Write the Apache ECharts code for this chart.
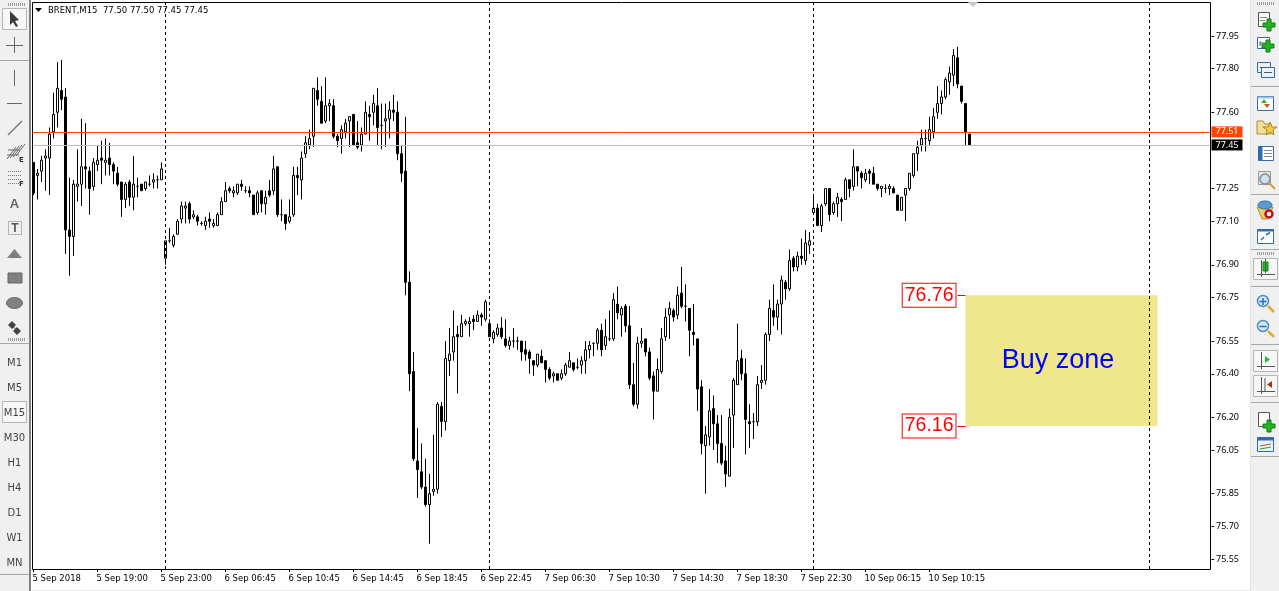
<!DOCTYPE html>
<html><head><meta charset="utf-8">
<style>html,body{margin:0;padding:0;background:#fff;overflow:hidden}#c{width:1279px;height:591px}</style>
<script src="https://cdn.jsdelivr.net/npm/echarts@6/dist/echarts.min.js"></script>
</head><body><div id="c"></div>
<script>
const opens=[
77.37,77.31,77.33,77.39,77.39,77.51,77.60,77.70,77.67,77.06,
77.03,77.26,77.27,77.35,77.33,77.26,77.36,77.39,77.37,77.39,
77.36,77.32,77.28,77.20,77.28,77.21,77.26,77.27,77.25,77.27,
77.28,77.29,77.29,76.93,77.01,76.99,77.04,77.11,77.16,77.18,
77.12,77.12,77.09,77.08,77.11,77.08,77.08,77.13,77.19,77.25,
77.23,77.23,77.27,77.24,77.24,77.22,77.14,77.24,77.18,77.24,
77.24,77.35,77.13,77.13,77.10,77.13,77.31,77.29,77.41,77.45,
77.49,77.70,77.65,77.56,77.63,77.63,77.49,77.48,77.51,77.56,
77.59,77.46,77.45,77.50,77.59,77.60,77.63,77.54,77.56,77.57,
77.61,77.60,77.41,77.33,76.82,76.41,76.00,75.95,75.88,75.80,
75.86,75.87,76.25,76.18,76.46,76.50,76.58,76.57,76.63,76.63,
76.65,76.64,76.67,76.65,76.63,76.56,76.58,76.61,76.56,76.53,
76.55,76.55,76.55,76.51,76.50,76.46,76.44,76.48,76.46,76.42,
76.39,76.40,76.38,76.40,76.43,76.45,76.43,76.44,76.46,76.51,
76.54,76.54,76.60,76.53,76.56,76.56,76.72,76.67,76.71,76.62,
76.35,76.26,76.54,76.56,76.50,76.39,76.32,76.41,76.57,76.67,
76.69,76.67,76.77,76.71,76.70,76.59,76.56,76.34,76.07,76.11,
76.24,76.17,76.08,76.00,75.93,76.21,76.35,76.47,76.40,76.18,
76.18,76.18,76.36,76.37,76.58,76.69,76.66,76.72,76.82,76.79,
76.93,76.89,76.94,76.92,76.99,77.14,77.16,77.08,77.18,77.25,
77.14,77.18,77.20,77.20,77.29,77.26,77.35,77.32,77.29,77.33,
77.32,77.27,77.25,77.25,77.25,77.25,77.22,77.15,77.22,77.25,
77.31,77.41,77.45,77.48,77.47,77.51,77.60,77.64,77.67,77.74,
77.77,77.85,77.72,77.64,77.50];
const closes=[
77.23,77.32,77.38,77.40,77.50,77.59,77.71,77.66,77.06,77.03,
77.27,77.27,77.35,77.34,77.25,77.37,77.38,77.38,77.38,77.36,
77.33,77.27,77.20,77.27,77.21,77.27,77.26,77.24,77.28,77.27,
77.29,77.29,77.34,77.01,77.01,77.03,77.10,77.17,77.17,77.11,
77.13,77.10,77.09,77.10,77.10,77.09,77.13,77.19,77.24,77.24,
77.24,77.27,77.26,77.24,77.23,77.13,77.23,77.18,77.21,77.22,
77.34,77.13,77.13,77.09,77.12,77.31,77.30,77.39,77.46,77.48,
77.71,77.66,77.55,77.63,77.64,77.49,77.47,77.52,77.55,77.58,
77.45,77.44,77.50,77.60,77.58,77.64,77.53,77.54,77.57,77.61,
77.60,77.41,77.32,76.82,76.40,76.01,75.96,75.88,75.80,75.85,
75.87,76.26,76.18,76.47,76.49,76.57,76.57,76.63,76.64,76.64,
76.64,76.67,76.66,76.73,76.57,76.59,76.61,76.57,76.53,76.55,
76.55,76.55,76.50,76.49,76.47,76.44,76.49,76.45,76.42,76.38,
76.40,76.37,76.40,76.44,76.46,76.42,76.43,76.46,76.51,76.53,
76.54,76.60,76.51,76.57,76.56,76.74,76.68,76.70,76.62,76.35,
76.26,76.54,76.55,76.50,76.38,76.32,76.42,76.56,76.66,76.70,
76.66,76.76,76.71,76.71,76.60,76.58,76.33,76.08,76.12,76.23,
76.17,76.08,75.99,75.94,76.20,76.37,76.46,76.40,76.19,76.17,
76.18,76.35,76.37,76.58,76.70,76.66,76.72,76.83,76.79,76.92,
76.89,76.94,76.93,77.00,77.01,77.16,77.08,77.17,77.25,77.13,
77.18,77.21,77.19,77.29,77.25,77.35,77.33,77.30,77.32,77.32,
77.27,77.25,77.26,77.25,77.26,77.23,77.15,77.21,77.25,77.32,
77.41,77.44,77.48,77.48,77.52,77.58,77.64,77.67,77.75,77.78,
77.86,77.73,77.65,77.51,77.45];
const lows=[
77.22,77.20,77.28,77.24,77.22,77.48,77.53,77.61,76.95,76.85,
76.94,77.19,77.17,77.25,77.13,77.24,77.33,77.27,77.31,77.31,
77.27,77.26,77.12,77.16,77.17,77.15,77.21,77.24,77.24,77.26,
77.25,77.25,77.29,76.90,77.00,76.98,77.04,77.09,77.09,77.09,
77.11,77.08,77.08,77.06,77.07,77.07,77.08,77.13,77.19,77.23,
77.21,77.22,77.24,77.23,77.21,77.13,77.13,77.14,77.13,77.21,
77.22,77.12,77.10,77.06,77.09,77.12,77.22,77.20,77.39,77.43,
77.44,77.63,77.55,77.55,77.56,77.48,77.44,77.41,77.48,77.44,
77.45,77.43,77.42,77.50,77.47,77.54,77.45,77.43,77.44,77.48,
77.56,77.38,77.28,76.76,76.32,76.00,75.83,75.87,75.79,75.62,
75.84,75.85,76.11,76.14,76.39,76.46,76.31,76.57,76.62,76.57,
76.60,76.64,76.62,76.64,76.57,76.54,76.57,76.56,76.52,76.51,
76.52,76.51,76.46,76.46,76.40,76.39,76.43,76.45,76.36,76.37,
76.36,76.37,76.37,76.39,76.43,76.41,76.42,76.40,76.40,76.47,
76.48,76.51,76.48,76.51,76.55,76.55,76.65,76.57,76.59,76.33,
76.25,76.24,76.52,76.48,76.37,76.19,76.32,76.40,76.55,76.56,
76.64,76.65,76.70,76.64,76.48,76.53,76.23,76.03,75.85,76.07,
76.05,75.99,75.98,75.88,75.93,76.06,76.35,76.37,76.03,76.06,
76.10,76.16,76.33,76.35,76.55,76.62,76.60,76.58,76.74,76.78,
76.87,76.87,76.90,76.90,76.95,77.13,77.08,77.05,77.17,77.10,
77.13,77.12,77.10,77.20,77.21,77.24,77.26,77.25,77.28,77.27,
77.27,77.24,77.21,77.23,77.22,77.23,77.15,77.15,77.10,77.24,
77.30,77.33,77.42,77.42,77.45,77.48,77.57,77.59,77.66,77.68,
77.72,77.71,77.64,77.45,77.45];
const highs=[
77.37,77.34,77.40,77.43,77.53,77.69,77.83,77.84,77.71,77.30,
77.29,77.43,77.57,77.55,77.35,77.39,77.45,77.47,77.48,77.46,
77.37,77.35,77.28,77.28,77.29,77.40,77.30,77.27,77.28,77.31,
77.32,77.31,77.37,77.01,77.07,77.04,77.11,77.19,77.19,77.19,
77.15,77.13,77.10,77.12,77.14,77.11,77.14,77.21,77.28,77.26,
77.26,77.27,77.29,77.26,77.26,77.22,77.24,77.24,77.24,77.29,
77.40,77.35,77.20,77.13,77.20,77.35,77.35,77.42,77.49,77.52,
77.71,77.76,77.72,77.76,77.66,77.66,77.50,77.54,77.57,77.58,
77.59,77.56,77.53,77.65,77.63,77.68,77.71,77.64,77.64,77.65,
77.68,77.65,77.45,77.58,76.87,76.50,76.15,76.08,76.01,75.94,
76.12,76.27,76.27,76.55,76.61,76.69,76.62,76.67,76.65,76.66,
76.67,76.69,76.68,76.74,76.65,76.60,76.63,76.66,76.65,76.57,
76.61,76.57,76.55,76.55,76.51,76.46,76.49,76.51,76.46,76.43,
76.41,76.40,76.42,76.45,76.50,76.45,76.47,76.48,76.55,76.55,
76.54,76.61,76.63,76.65,76.69,76.77,76.80,76.71,76.72,76.71,
76.45,76.57,76.61,76.56,76.52,76.41,76.47,76.61,76.70,76.73,
76.70,76.80,76.89,76.81,76.70,76.72,76.56,76.37,76.16,76.33,
76.30,76.21,76.21,76.07,76.24,76.38,76.63,76.51,76.47,76.26,
76.22,76.39,76.44,76.59,76.74,76.81,76.74,76.85,76.83,76.97,
76.94,76.96,77.02,77.06,77.05,77.22,77.18,77.18,77.25,77.25,
77.19,77.23,77.21,77.30,77.29,77.43,77.35,77.33,77.34,77.34,
77.35,77.27,77.26,77.27,77.27,77.26,77.22,77.21,77.25,77.32,
77.41,77.47,77.52,77.52,77.58,77.62,77.72,77.70,77.76,77.81,
77.89,77.90,77.72,77.64,77.50];
const timeLabels=['5 Sep 2018','5 Sep 19:00','5 Sep 23:00','6 Sep 06:45','6 Sep 10:45','6 Sep 14:45','6 Sep 18:45','6 Sep 22:45','7 Sep 06:30','7 Sep 10:30','7 Sep 14:30','7 Sep 18:30','7 Sep 22:30','10 Sep 06:15','10 Sep 10:15'];
const priceTicks=[77.95,77.80,77.60,77.25,77.10,76.90,76.75,76.55,76.40,76.20,76.05,75.85,75.70,75.55];
const periodSeparators=[33,114,195,279];
const bidPrice=77.45, highlightPrice=77.51;
const zoneTop=76.76, zoneBottom=76.16;
const periods=['M1','M5','M15','M30','H1','H4','D1','W1','MN'];
const headerText='BRENT,M15  77.50 77.50 77.45 77.45';

const SLOTS=295, EVERY=16;
const categories=Array.from({length:SLOTS},(_,i)=>(i%EVERY===0&&timeLabels[i/EVERY])||String(i));
const candles=opens.map((o,i)=>[o,closes[i],lows[i],highs[i]]);
const isTick=i=>i%EVERY===0&&i/EVERY<timeLabels.length;
const UI='"DejaVu Sans"';
const UIF='DejaVu Sans';

/* ---------- window chrome ---------- */
const g=[];
const R=(x,y,w,h,fill,stroke,extra)=>g.push(Object.assign({type:'rect',silent:true,z:100,shape:{x,y,width:w,height:h},style:{fill:fill||'none',stroke:stroke||'none',lineWidth:1}},extra||{}));
const L=(x1,y1,x2,y2,c,w,dash)=>g.push({type:'line',silent:true,z:101,shape:{x1,y1,x2,y2},style:{stroke:c||'#555',lineWidth:w||1,lineDash:dash}});
const P=(pts,fill,stroke)=>g.push({type:'polygon',silent:true,z:101,shape:{points:pts},style:{fill:fill||'none',stroke:stroke||'none',lineWidth:1}});
const T=(x,y,s,o)=>g.push({type:'text',silent:true,z:102,x,y,style:Object.assign({text:s,font:'10px '+UI,fill:'#000',verticalAlign:'middle'},o||{})});

R(0,0,30,591,'#F0F0F0');
R(29,0,2,591,'#808080');
R(31,0,1,591,'#fff');
R(1251,0,28,591,'#F0F0F0');
R(1250,0,1,591,'#E4E4E4');
R(32,590,1218,1,'#E8E8E8');
/* frame */
R(32.5,2.5,1178,567,null,'#000');

/* left toolbar */
for(let i=0;i<9;i++) L(8+i*2+.5,3,8+i*2+.5,6,'#9a9a9a',1);
for(let i=0;i<9;i++) L(8+i*2+.5,338,8+i*2+.5,341,'#9a9a9a',1);
[60.5,343.5,574.5].forEach(y=>L(0,y,29,y,'#a8a8a8',1));
R(2.5,8.5,24,21,'#F7F7F7','#b5b5b5');
P([[10,11],[10,25],[13,22],[16,27],[18,26],[15,21],[19,20]],'#3a3a3a');
L(14.5,37,14.5,53,'#666'); L(6,45.5,23,45.5,'#666');
R(12,43,5,5,'#F0F0F0');
L(14.5,70,14.5,86,'#666');
L(7,103.5,22,103.5,'#666');
L(8,135,22,121,'#777',1.4);
for(let i=0;i<4;i++) L(7+i*3,159-i,16+i*3,147-i,'#666');
L(8,150,20,150,'#666');L(7,155,19,155,'#666');
T(19,160,'E',{font:'bold 7px '+UI,fill:'#333'});
[171,175,179,183].forEach(y=>L(8,y+.5,22,y+.5,'#777',1,[1,1]));
T(19,184,'F',{font:'bold 7px '+UI,fill:'#333'});
T(14.5,204,'A',{font:'bold 13px "Liberation Sans"',fill:'#666',align:'center'});
R(8.5,221.5,13,13,null,'#777',{style:{fill:'none',stroke:'#777',lineWidth:1,lineDash:[1,1]}});
T(15,229,'T',{font:'bold 12px "Liberation Sans"',fill:'#555',align:'center'});
P([[7,258],[22,258],[14.5,249]],'#808080');
R(8,273,14,10,'#808080','#666');
g.push({type:'ellipse',silent:true,z:101,shape:{cx:14.5,cy:303,rx:8,ry:5.5},style:{fill:'#808080',stroke:'#707070'}});
P([[8,325],[12,321],[16,325],[12,329]],'#444');P([[13,331],[17,327],[21,331],[17,335]],'#444');L(10,323,18,332,'#444');
R(2.5,401.5,24,21,'#F7F7F7','#b5b5b5');
periods.forEach((p,i)=>T(14.5,363+25*i,p,{align:'center',fill:'#444',font:'10px '+UI}));

/* right toolbar */
for(let i=0;i<9;i++) L(1257+i*2+.5,2,1257+i*2+.5,5,'#9a9a9a',1);
for(let i=0;i<9;i++) L(1257+i*2+.5,252,1257+i*2+.5,255,'#9a9a9a',1);
[86.5,194.5,249.5,286.5,344.5,402.5,456.5].forEach(y=>L(1251,y,1279,y,'#a8a8a8',1));
const plus=(x,y)=>{P([[x-2,y-6],[x+2,y-6],[x+2,y-2],[x+6,y-2],[x+6,y+2],[x+2,y+2],[x+2,y+6],[x-2,y+6],[x-2,y+2],[x-6,y+2],[x-6,y-2],[x-2,y-2]],'#22B522','#0F7A0F');};
const doc=(x,y,c)=>R(x+.5,y+.5,11,14,c||'#fff','#555');
doc(1258,12);L(1260,17.5,1267,17.5,'#888');L(1260,20.5,1265,20.5,'#888');plus(1269,25);
R(1257.5,37.5,12,11,'#fff','#2F6DB0');L(1260,43,1266,43,'#555');L(1260,41,1260,46,'#555');plus(1268,46);
R(1257.5,62.5,13,10,'#E9F1FA','#2F6DB0');R(1261.5,67.5,13,10,'#E9F1FA','#2F6DB0');L(1260,67.5,1268,67.5,'#555');L(1264,72.5,1272,72.5,'#555');
R(1257.5,96.5,16,14,'#fff','#2F6DB0');R(1257.5,96.5,16,2,'#9DC3E6');P([[1261,103],[1264,99],[1267,103]],'#2EB82E');P([[1264,104],[1267,108],[1270,104]],'#E05020');
P([[1257,121],[1263,121],[1265,124],[1271,124],[1271,134],[1257,134]],'#F3DE95','#A89040');P([[1270,122],[1272,127],[1277,127],[1273,130],[1274,135],[1270,132],[1266,135],[1267,130],[1263,127],[1268,127]],'#F4C94A','#A88A20');
R(1258.5,146.5,15,14,'#fff','#2F6DB0');R(1258.5,146.5,4,14,'#2F6DB0');[150,153,156].forEach(y=>L(1264,y+.5,1272,y+.5,'#888'));
R(1258.5,171.5,12,13,'#E8E8E8','#999');g.push({type:'circle',silent:true,z:101,shape:{cx:1265,cy:179,r:5},style:{fill:'#CFE0F0',stroke:'#888',lineWidth:1.5}});L(1269,183,1275,189,'#C9A030',2);
P([[1257,207],[1273,207],[1268,219],[1262,219]],'#EBCB6B','#A89040');g.push({type:'ellipse',silent:true,z:101,shape:{cx:1265,cy:205,rx:7,ry:4},style:{fill:'#5B9BD5',stroke:'#2F6DB0'}});g.push({type:'circle',silent:true,z:102,shape:{cx:1269,cy:214,r:3.5},style:{fill:'#fff',stroke:'#C81010',lineWidth:2.5}});
R(1257.5,229.5,16,14,'#fff','#2F6DB0');R(1257.5,229.5,16,2,'#2F6DB0');L(1261,240,1264,237,'#2F6DB0',1.5);L(1266,235,1270,232.5,'#2F6DB0',1.5);
R(1253.5,258.5,24,21,'#F7F7F7','#b5b5b5');L(1261.5,260,1261.5,277,'#555');L(1257,274.5,1275,274.5,'#555');R(1263,262,5,9,'#2EB82E','#1a7a1a');L(1265.5,259,1265.5,273,'#1a7a1a');
const zoom=(y,isPlus)=>{g.push({type:'circle',silent:true,z:101,shape:{cx:1263,cy:y,r:5.5},style:{fill:'#D2E6F7',stroke:'#4A90C8',lineWidth:1.5}});L(1259.5,y+.5,1266.5,y+.5,'#2F6DB0',1.5);if(isPlus)L(1263,y-3,1263,y+4,'#2F6DB0',1.5);L(1268,y+5,1274,y+11,'#D9B030',2.5);};
zoom(301,true);zoom(326,false);
R(1253.5,350.5,24,21,'#F7F7F7','#b5b5b5');L(1261.5,352,1261.5,369,'#555');L(1257,366.5,1275,366.5,'#555');P([[1265,356],[1265,363],[1270,359.5]],'#2EB82E');
R(1253.5,375.5,24,21,'#F7F7F7','#b5b5b5');L(1261.5,377,1261.5,394,'#555');L(1257,391.5,1275,391.5,'#555');L(1265,378,1265,391,'#555');P([[1272,381],[1272,388],[1267,384.5]],'#B03010');
doc(1258,412);plus(1269,426);
R(1257.5,437.5,16,14,'#E8F2FA','#2F6DB0');R(1257.5,437.5,16,3,'#2F6DB0');L(1260,446,1271,444,'#C05020');L(1260,449,1271,447,'#2EA02E');

/* chart header */
P([[35,8],[42,8],[38.5,12]],'#000');
T(48,10.5,headerText,{font:'8.5px '+UI});
P([[968,2],[978,2],[973,7]],'#C8C8C8');

/* ---------- chart ---------- */
const hl=(v,color)=>({yAxis:v,lineStyle:{color,width:1,type:'solid'},
  label:{show:true,position:'end',distance:0,formatter:v.toFixed(2),color:'#fff',backgroundColor:color==='#C0C0C0'?'#000':color,
  fontFamily:'Noto Sans',fontSize:9,lineHeight:9,padding:[1,4,1,4]}});
const chart=echarts.init(document.getElementById('c'),null,{renderer:'canvas'});
chart.setOption({
  animation:false,backgroundColor:'#fff',
  graphic:{elements:g},
  grid:{left:31.5,top:2,right:67.5,bottom:22,containLabel:false,show:false},
  xAxis:{type:'category',data:categories,boundaryGap:true,
    axisLine:{show:false},
    axisTick:{show:true,alignWithLabel:true,interval:i=>isTick(i),length:3,lineStyle:{color:'#000'}},
    axisLabel:{show:true,interval:i=>isTick(i),align:'left',margin:5,color:'#000',fontFamily:UIF,fontSize:8.5,padding:[0,0,0,-1],hideOverlap:false},
    splitLine:{show:false}},
  yAxis:{type:'value',position:'right',min:75.504,max:78.106,scale:true,
    axisLine:{show:false},
    axisTick:{show:true,length:2.5,lineStyle:{color:'#000'},customValues:priceTicks},
    axisLabel:{show:true,margin:4.5,color:'#000',fontFamily:'Noto Sans',fontSize:9,padding:[2,0,0,0],customValues:priceTicks,formatter:v=>v.toFixed(2),align:'left'},
    splitLine:{show:false}},
  series:[{type:'candlestick',data:candles,barWidth:2,clip:false,
    itemStyle:{color:'#fff',color0:'#000',borderColor:'#000',borderColor0:'#000',borderColorDoji:'#000',borderWidth:1},
    emphasis:{disabled:true},silent:true,
    markArea:{silent:true,z:1,itemStyle:{color:'#F0E68C',opacity:1},
      label:{show:true,position:'inside',offset:[-3.5,0],color:'#0000FF',fontFamily:'Liberation Sans',fontSize:27,formatter:'Buy zone'},
      data:[[{xAxis:233,yAxis:zoneTop},{xAxis:281,yAxis:zoneBottom}]]},
    markLine:{silent:true,symbol:'none',animation:false,label:{show:false},
      data:[
        ...periodSeparators.map(i=>({xAxis:i,lineStyle:{color:'#000',width:1,type:[3,3]}})),
        hl(highlightPrice,'#FF4500'),
        hl(bidPrice,'#C0C0C0'),
        [{coord:[231,zoneTop],lineStyle:{color:'#FF0000',width:1,type:'solid'}},{coord:[233,zoneTop]}],
        [{coord:[231,zoneBottom],lineStyle:{color:'#FF0000',width:1,type:'solid'}},{coord:[233,zoneBottom]}]
      ]},
    markPoint:{silent:true,symbol:'rect',symbolSize:0,animation:false,
      label:{show:true,position:'left',distance:2,color:'#FF0000',fontFamily:'Liberation Sans',fontSize:19.5,backgroundColor:'#fff',borderColor:'#FF0000',borderWidth:1,padding:[2,2,1,2],formatter:p=>p.value.toFixed(2)},
      data:[{coord:[231,zoneTop],value:zoneTop},{coord:[231,zoneBottom],value:zoneBottom}]}
  }]
});
</script></body></html>
